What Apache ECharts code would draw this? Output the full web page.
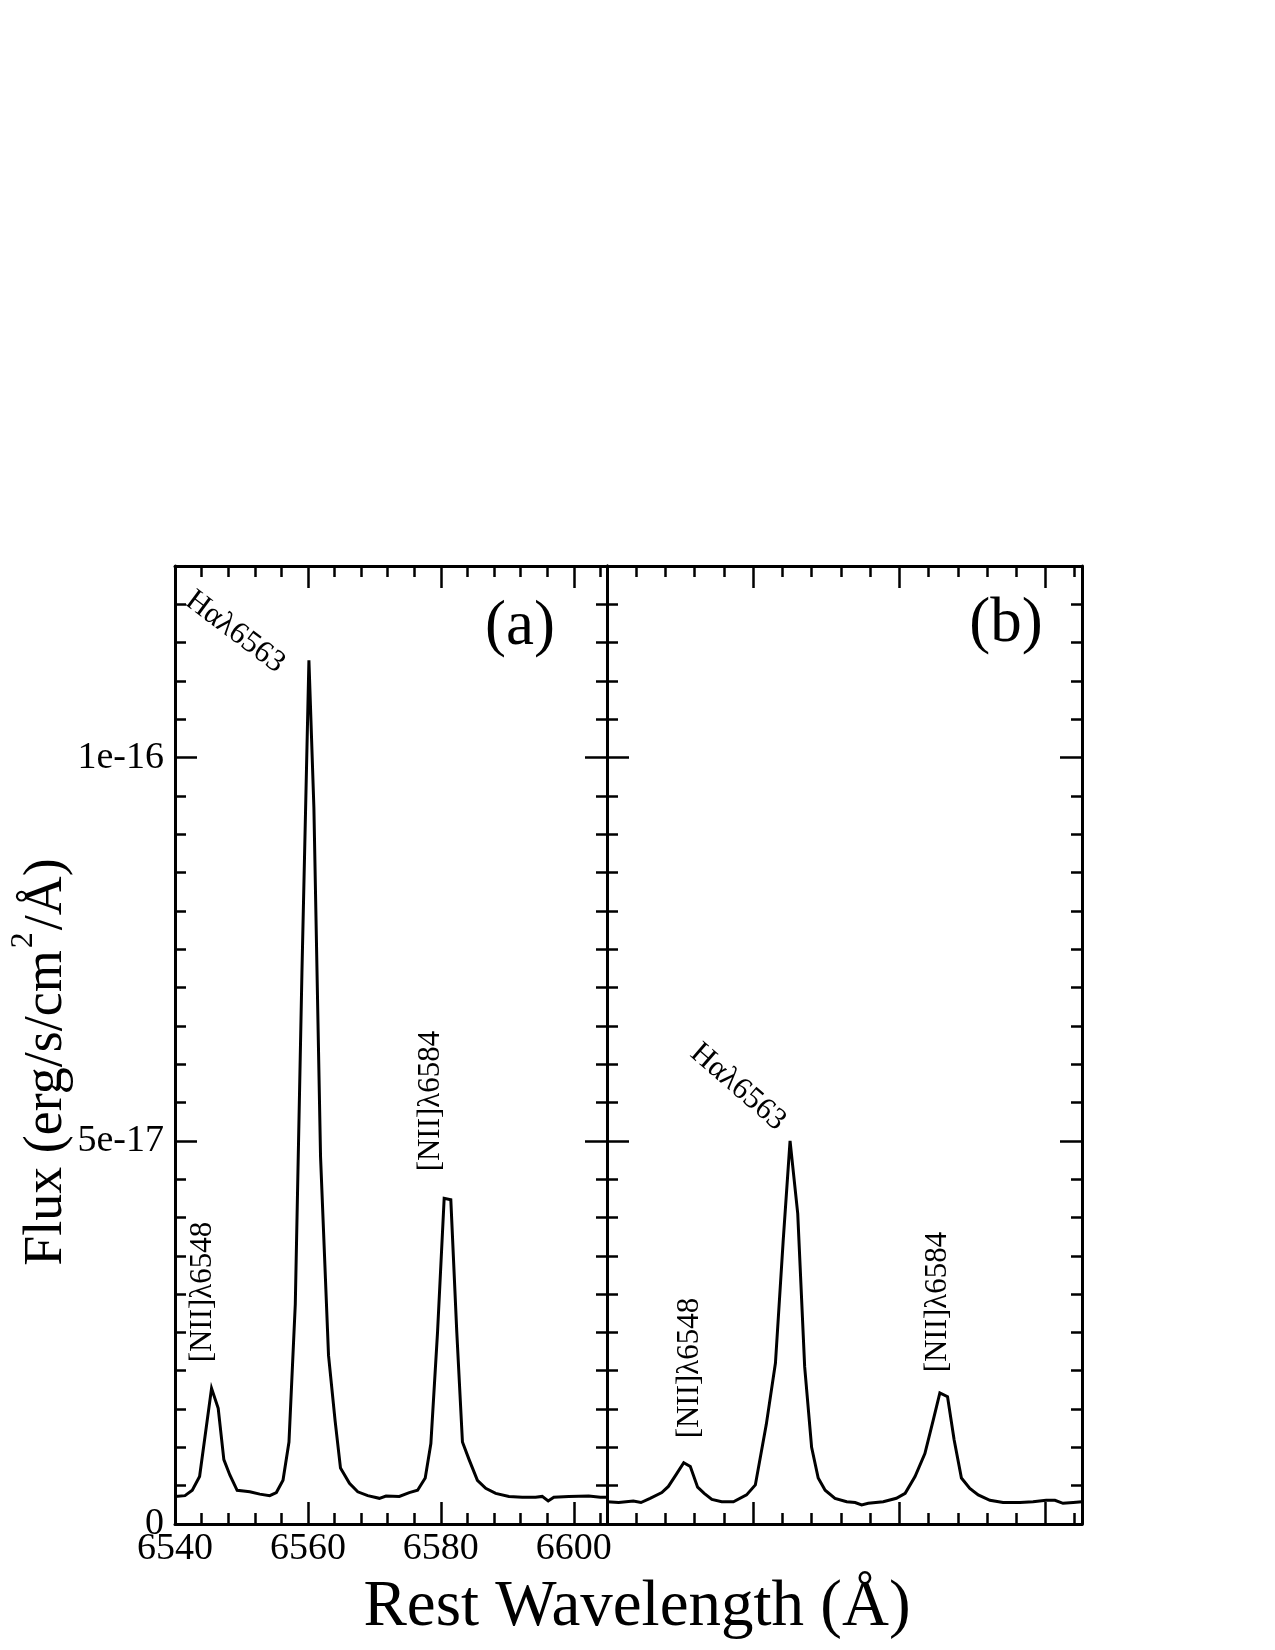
<!DOCTYPE html>
<html>
<head>
<meta charset="utf-8">
<title>H-alpha spectra</title>
<script src="https://cdn.jsdelivr.net/npm/echarts@6.0.0/dist/echarts.min.js"></script>
<style>
  html, body { margin: 0; padding: 0; background: #fff; }
  #main { width: 1275px; height: 1650px; }
</style>
</head>
<body>
<div id="main"></div>
<script>
// flux values are in units of 1e-17 erg/s/cm^2/A
var waveA = [6540.0, 6541.5, 6542.6, 6543.7, 6545.5, 6546.5, 6547.35, 6548.25, 6549.35, 6550.3,
  6551.25, 6552.75, 6554.25, 6555.25, 6556.25, 6557.15, 6558.1, 6559.1, 6560.15, 6560.9,
  6561.9, 6563.1, 6564.1, 6564.9, 6566.25, 6567.5, 6569.0, 6570.75, 6571.75, 6573.75,
  6575.25, 6576.5, 6577.65, 6578.5, 6579.5, 6580.5, 6581.5, 6582.4, 6583.25, 6584.25,
  6585.5, 6586.75, 6588.25, 6590.25, 6592.25, 6594.25, 6595.25, 6596.15, 6597.0, 6599.25,
  6602.25, 6604.0, 6605.0];
var fluxA = [0.36, 0.37, 0.44, 0.62, 1.77, 1.51, 0.84, 0.64, 0.44, 0.43,
  0.42, 0.39, 0.37, 0.41, 0.57, 1.07, 2.87, 7.2, 11.27, 9.34,
  4.79, 2.2, 1.34, 0.73, 0.53, 0.42, 0.37, 0.335, 0.365, 0.36,
  0.41, 0.44, 0.60, 1.05, 2.5, 4.25, 4.23, 2.5, 1.07, 0.84,
  0.57, 0.465, 0.40, 0.36, 0.35, 0.35, 0.36, 0.30, 0.35, 0.36,
  0.365, 0.35, 0.35];

var waveB = [6540.0, 6541.6, 6543.6, 6544.65, 6545.9, 6547.5, 6548.4, 6549.5, 6550.5, 6551.4,
  6552.4, 6553.3, 6554.35, 6555.7, 6557.3, 6559.1, 6560.3, 6561.8, 6563.05, 6564.1,
  6565.05, 6566.1, 6567.05, 6568.0, 6568.9, 6569.85, 6571.2, 6572.8, 6573.95, 6574.85,
  6575.75, 6577.8, 6579.6, 6580.8, 6582.15, 6583.5, 6584.65, 6585.55, 6586.6, 6587.5,
  6588.5, 6589.65, 6590.8, 6592.4, 6594.2, 6596.5, 6598.3, 6600.1, 6601.3, 6602.4,
  6603.8, 6605.0];
var fluxB = [0.29, 0.28, 0.30, 0.28, 0.335, 0.41, 0.49, 0.65, 0.80, 0.75,
  0.48, 0.40, 0.32, 0.29, 0.29, 0.38, 0.51, 1.30, 2.1, 3.68,
  5.0, 4.05, 2.05, 1.0, 0.60, 0.44, 0.335, 0.29, 0.28, 0.25,
  0.27, 0.29, 0.335, 0.40, 0.62, 0.92, 1.36, 1.71, 1.66, 1.1,
  0.60, 0.465, 0.38, 0.31, 0.28, 0.28, 0.29, 0.31, 0.31, 0.27,
  0.28, 0.29];

var xTicks = [6540, 6560, 6580, 6600];
var yTicks = [0, 5, 10];
var yTickLabels = ['0', '5e-17', '1e-16'];
var panelNames = ['(a)', '(b)'];
var lineNames = ['H\u03b1\u03bb6563', '[NII]\u03bb6548', '[NII]\u03bb6584'];
var yTitleParts = ['Flux (erg/s/cm', '2', '/\u00c5)'];
var xTitle = 'Rest Wavelength (\u00c5)';

var SERIF = '"Liberation Serif", "Times New Roman", serif';
var X_MIN = 6540, X_MAX = 6605, Y_MIN = 0, Y_MAX = 12.5;

function pairs(xs, ys) {
  return xs.map(function (x, i) { return [x, ys[i]]; });
}

function xAx(grid, pos, interval, len, labels, line) {
  return {
    type: 'value', gridIndex: grid, position: pos,
    min: X_MIN, max: X_MAX, interval: interval,
    axisLine: { show: line, onZero: false, lineStyle: { color: '#000', width: 3 } },
    axisTick: { show: true, inside: true, length: len, lineStyle: { color: '#000', width: 2.5 } },
    axisLabel: {
      show: labels, margin: 6, color: '#000', fontSize: 38, fontFamily: SERIF,
      formatter: function (v) { return xTicks.indexOf(v) >= 0 ? String(v) : ''; }
    },
    splitLine: { show: false }
  };
}

function yAx(grid, pos, interval, len, labels, line) {
  return {
    type: 'value', gridIndex: grid, position: pos,
    min: Y_MIN, max: Y_MAX, interval: interval,
    axisLine: { show: line, onZero: false, lineStyle: { color: '#000', width: 3 } },
    axisTick: { show: true, inside: true, length: len, lineStyle: { color: '#000', width: 2.5 } },
    axisLabel: {
      show: labels, margin: 11, color: '#000', fontSize: 38, fontFamily: SERIF,
      formatter: function (v) {
        var i = yTicks.indexOf(v);
        return i >= 0 ? yTickLabels[i] : '';
      }
    },
    splitLine: { show: false }
  };
}

var xAxes = [], yAxes = [];
[0, 1].forEach(function (g) {
  xAxes.push(xAx(g, 'bottom', 20, 22, g === 0, true));
  xAxes.push(xAx(g, 'bottom', 4, 11, false, false));
  xAxes.push(xAx(g, 'top', 20, 22, false, true));
  xAxes.push(xAx(g, 'top', 4, 11, false, false));
  yAxes.push(yAx(g, 'left', 5, 22, g === 0, true));
  yAxes.push(yAx(g, 'left', 0.5, 11, false, false));
  yAxes.push(yAx(g, 'right', 5, 22, false, true));
  yAxes.push(yAx(g, 'right', 0.5, 11, false, false));
});

function spectrum(g, data) {
  return {
    type: 'line', xAxisIndex: g * 4, yAxisIndex: g * 4,
    data: data, showSymbol: false, symbol: 'none', clip: true,
    lineStyle: { color: '#000', width: 3, join: 'miter' },
    silent: true
  };
}

function label(text, x, y, size, rot, align) {
  return {
    type: 'text', x: x, y: y, rotation: (rot || 0) * Math.PI / 180,
    style: {
      text: text, fill: '#000', fontSize: size, fontFamily: SERIF,
      align: align || 'center', verticalAlign: 'middle'
    }
  };
}

// y title: main text plus raised "2", laid out upward along the rotated baseline
var ctx = document.createElement('canvas').getContext('2d');
function textWidth(t, size) {
  ctx.font = size + 'px ' + SERIF;
  return ctx.measureText(t).width;
}
var TS = 54, SS = 32;
var w1 = textWidth(yTitleParts[0], TS);
var w2 = textWidth(yTitleParts[1], SS) + 4;
var w3 = textWidth(yTitleParts[2], TS);
var yStart = 1062 + (w1 + w2 + w3) / 2;

var chart = echarts.init(document.getElementById('main'));
var option = {
  animation: false,
  backgroundColor: '#fff',
  grid: [
    { left: 175, top: 566, width: 432, height: 958, outerBoundsMode: 'none' },
    { left: 607, top: 566, width: 475, height: 958, outerBoundsMode: 'none' }
  ],
  xAxis: xAxes,
  yAxis: yAxes,
  series: [
    spectrum(0, pairs(waveA, fluxA)),
    spectrum(1, pairs(waveB, fluxB))
  ],
  graphic: [
    label(panelNames[0], 520, 627, 63),
    label(panelNames[1], 1006, 624, 63),
    label(lineNames[0], 235, 632, 31, -37),
    label(lineNames[1], 203, 1292, 31, 90),
    label(lineNames[2], 431, 1101, 31, 90),
    label(lineNames[0], 738, 1087, 31, -41),
    label(lineNames[1], 690, 1368, 31, 90),
    label(lineNames[2], 938, 1302, 31, 90),
    label(xTitle, 637, 1608, 65),
    label(yTitleParts[0], 47, yStart, TS, 90, 'left'),
    label(yTitleParts[1], 24, yStart - w1 - 2, SS, 90, 'left'),
    label(yTitleParts[2], 47, yStart - w1 - w2, TS, 90, 'left')
  ]
};
chart.setOption(option);
</script>
</body>
</html>
